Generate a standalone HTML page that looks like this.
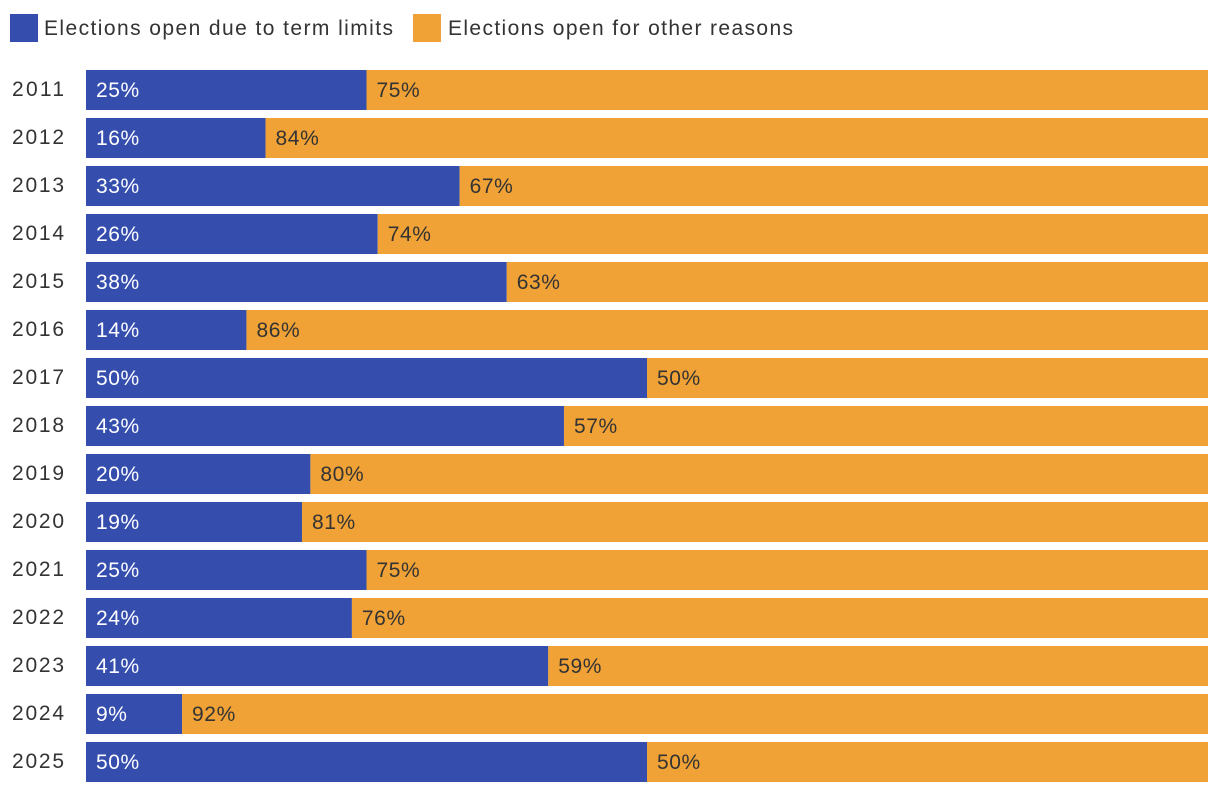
<!DOCTYPE html>
<html><head><meta charset="utf-8"><style>
body{margin:0;background:#fff;width:1220px;height:792px;overflow:hidden;font-family:"Liberation Sans",sans-serif}
</style></head><body>
<svg id="chart" width="1220" height="792">
<g>
<rect x="10" y="14" width="28" height="28" fill="#354eae"/>
<text x="44" y="35" font-size="21" fill="#333" textLength="349" lengthAdjust="spacing">Elections open due to term limits</text>
<rect x="413" y="14" width="28" height="28" fill="#f0a236"/>
<text x="448" y="35" font-size="21" fill="#333" textLength="345" lengthAdjust="spacing">Elections open for other reasons</text>
</g>
<g id="bars"></g>
</svg>
<script>
const years=["2011","2012","2013","2014","2015","2016","2017","2018","2019","2020","2021","2022","2023","2024","2025"];
const termShare=[0.25,0.16,0.333,0.26,0.375,0.143,0.5,0.426,0.2,0.1925,0.25,0.237,0.412,0.0856,0.5];
const termLabels=["25%","16%","33%","26%","38%","14%","50%","43%","20%","19%","25%","24%","41%","9%","50%"];
const otherLabels=["75%","84%","67%","74%","63%","86%","50%","57%","80%","81%","75%","76%","59%","92%","50%"];
const X0=86,W=1122,Y0=70,STEP=48,H=40;
const x=v=>X0+v*W, y=i=>Y0+i*STEP;
const g=document.getElementById('bars');const NS="http://www.w3.org/2000/svg";
function mk(t,a){const e=document.createElementNS(NS,t);for(const k in a)e.setAttribute(k,a[k]);return e;}
years.forEach((yr,i)=>{
 const yl=mk('text',{x:12,y:y(i)+26,'font-size':21,fill:'#333',textLength:52,lengthAdjust:'spacing'});yl.textContent=yr;
 
 g.appendChild(yl);
 const b=mk('rect',{x:X0,y:y(i),width:x(termShare[i])-X0,height:H,fill:'#354eae'});
 
 g.appendChild(b);
 const o=mk('rect',{x:x(termShare[i]),y:y(i),width:X0+W-x(termShare[i]),height:H,fill:'#f0a236'});
 
 g.appendChild(o);
 const t1=mk('text',{x:X0+10,y:y(i)+27,'font-size':21,fill:'#fff','letter-spacing':0.6});t1.textContent=termLabels[i];
 
 g.appendChild(t1);
 const t2=mk('text',{x:x(termShare[i])+10,y:y(i)+27,'font-size':21,fill:'#333','letter-spacing':0.6});t2.textContent=otherLabels[i];
 
 g.appendChild(t2);
});
</script>
</body></html>
